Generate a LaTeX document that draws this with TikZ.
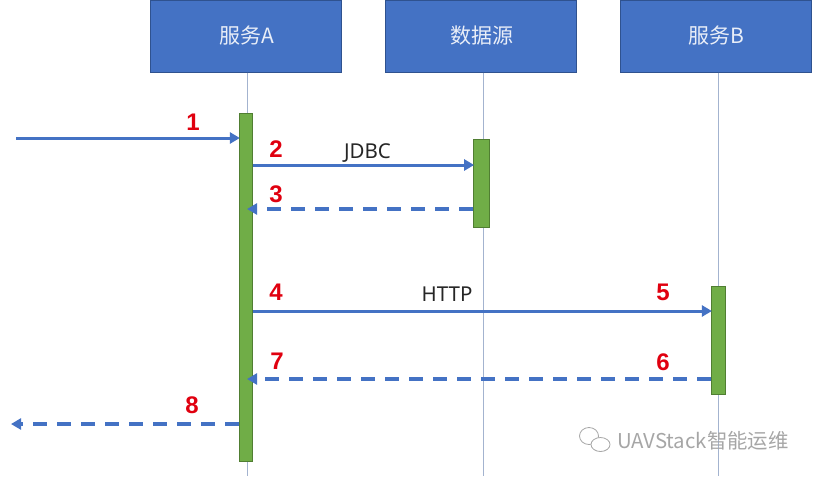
\documentclass[tikz,border=0pt]{standalone}
\usepackage{xcolor}
\usepackage{fontspec}
\setmainfont{Noto Sans}
\newfontfamily\cjk{Noto Sans CJK SC}
\newfontfamily\stepfont{Liberation Sans}
\usetikzlibrary{shapes.geometric, arrows.meta, positioning}
\definecolor{boxBlue}{HTML}{4472C4}
\definecolor{boxEdge}{HTML}{2F528F}
\definecolor{barGreen}{HTML}{70AD47}
\definecolor{barEdge}{HTML}{507E32}
\definecolor{lifeGrey}{HTML}{A3B3CF}
\definecolor{stepRed}{HTML}{E0000F}
\definecolor{markGrey}{HTML}{A6A6A6}

\begin{document}
\begin{tikzpicture}[
    x=1pt, y=-1pt,
    node distance=43pt,
    box/.style={rectangle, minimum width=191pt, minimum height=72pt, inner sep=0pt,
                fill=boxBlue, draw=boxEdge, line width=1pt, text=white!88!boxBlue,
                font=\fontsize{21}{25}\selectfont\cjk},
    bar/.style={rectangle, inner sep=0pt, anchor=north, fill=barGreen, draw=barEdge, line width=0.7pt},
    lifeline/.style={lifeGrey, line width=1pt},
    arrow/.style={-{Triangle[length=10pt,width=11pt]}, line width=3pt, color=boxBlue, shorten >=-1pt},
    dashed_arrow/.style={-{Triangle[length=10pt,width=11pt]}, line width=3.4pt, color=boxBlue, dash pattern=on 14pt off 10pt},
    stepnum/.style={font=\fontsize{24}{26}\selectfont\stepfont\bfseries, text=stepRed, inner sep=0pt},
    proto/.style={font=\fontsize{20.5}{24}\selectfont, text=black!85, inner sep=0pt},
    bubble/.style={ellipse, fill=white, draw=markGrey, line width=0.8pt, inner sep=0pt}
]
\useasboundingbox (0,0) rectangle (813,477);

% Services
\node[box] (serviceA) at (246,36) {\hspace{1pt}服务A};
\node[box, right=of serviceA] (dataSource) {\hspace{1pt}数据源};
\node[box, right=of dataSource] (serviceB) {\hspace{1pt}服务B};

% Lifelines
\coordinate (endA) at (247,476);
\coordinate (endData) at (483,476);
\coordinate (endB) at (718,476);
\draw[lifeline] (serviceA.south -| endA) -- (endA);
\draw[lifeline] (dataSource.south -| endData) -- (endData);
\draw[lifeline] (serviceB.south -| endB) -- (endB);

% Activation bars
\node[bar, minimum width=13.5pt, minimum height=348pt] (barA) at (246,113) {};
\node[bar, minimum width=16pt, minimum height=88pt] (barData) at (481.5,139) {};
\node[bar, minimum width=14.5pt, minimum height=108pt] (barB) at (718.5,286) {};

% Free ends
\coordinate (caller) at (16,138);
\coordinate (callerBack) at (11,424);
\coordinate (jdbcOut) at (252.7,165);
\coordinate (jdbcBack) at (247,209);
\coordinate (httpOut) at (253,311);
\coordinate (httpBack) at (247,379);

% Arrows
\draw[arrow] (caller) -- (caller -| barA.west);
\draw[arrow] (jdbcOut) -- (jdbcOut -| barData.west);
\draw[dashed_arrow] (jdbcBack -| barData.west) -- (jdbcBack);
\draw[arrow] (httpOut) -- (httpOut -| barB.west);
\draw[dashed_arrow] (httpBack -| barB.west) -- (httpBack);
\draw[dashed_arrow] (callerBack -| barA.west) -- (callerBack);

% Step numbers
\node[stepnum] (step1) at (193,122) {1};
\node[stepnum] (step2) at (276,149) {2};
\node[stepnum] (step3) at (276,194) {3};
\node[stepnum] (step4) at (276,292) {4};
\node[stepnum] (step5) at (663,292) {5};
\node[stepnum] (step6) at (663,362) {6};
\node[stepnum] (step7) at (277,361) {7};
\node[stepnum] (step8) at (192,405) {8};

% Protocols
\node[proto] (jdbc) at (367.5,153) {JDBC};
\node[proto] (http) at (447,294) {HTTP};

% Watermark
\node[bubble, minimum width=19pt, minimum height=17pt] (bubbleBig) at (589,436) {};
\node[bubble, minimum width=19pt, minimum height=14pt] (bubbleSmall) at (600.5,444.5) {};
\node[anchor=west, inner sep=0pt, text=markGrey, font=\fontsize{20.4}{24}\selectfont\cjk] (mark) at (617,441) {UAVStack智能运维};

\end{tikzpicture}
\end{document}
